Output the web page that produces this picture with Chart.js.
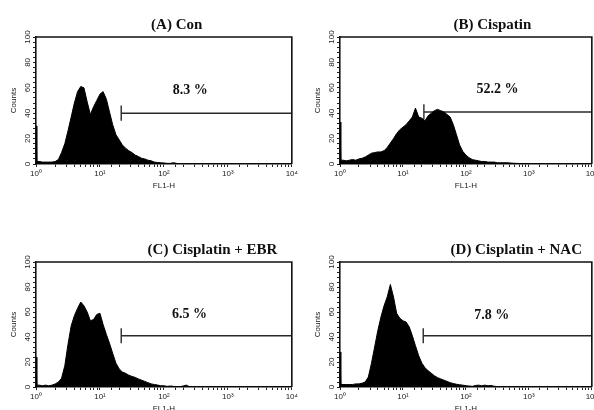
<!DOCTYPE html>
<html><head><meta charset="utf-8">
<script src="https://cdn.jsdelivr.net/npm/chart.js@4.4.1/dist/chart.umd.min.js"></script>
<style>
html,body{margin:0;padding:0;background:#fff;overflow:hidden;width:594px;height:410px;position:relative}
canvas{position:absolute}
</style></head><body>
<canvas id="cA" width="300" height="200" style="left:0;top:0"></canvas>
<canvas id="cB" width="300" height="200" style="left:300px;top:0"></canvas>
<canvas id="cC" width="300" height="218" style="left:0;top:205px"></canvas>
<canvas id="cD" width="300" height="218" style="left:300px;top:205px"></canvas>
<script>
// FL1-H channel positions (fluorescence intensity)
const channels = [1, 1.03, 1.12, 1.26, 1.41, 1.58, 1.78, 2.0, 2.24, 2.51,
  2.82, 3.16, 3.55, 3.98, 4.47, 5.01, 5.62, 6.31, 7.08, 7.94,
  8.91, 10, 11.2, 12.6, 14.1, 15.8, 17.8, 20.0, 22.4, 25.1,
  28.2, 31.6, 35.5, 39.8, 44.7, 50.1, 56.2, 63.1, 70.8, 79.4,
  89.1, 100, 112, 126, 141, 158, 178, 200, 224, 251,
  282, 316, 355, 398, 447, 501, 562, 631, 708, 794,
  891, 1000, 2000, 5000, 10000];

const countsCon = [30, 2, 2, 1.5, 1.5, 1.5, 1.5, 2, 3.5, 9,
  16, 26, 37, 48, 57, 61, 60, 49, 39, 45,
  50, 55, 57, 51, 41, 31, 23, 19, 15, 12.5,
  10.5, 9, 7, 6, 4.5, 4, 3, 2.5, 1.5, 1.2,
  1, 0.8, 0.5, 0.5, 1, 0.5, 0, 0, 0, 0,
  0, 0, 0, 0, 0, 0, 0, 0, 0, 0,
  0, 0, 0, 0, 0];

const countsCis = [33, 3, 3, 2.5, 3, 3.5, 3, 4, 4.5, 5.5,
  7, 8.5, 9, 9.5, 9.5, 10.5, 13, 16.5, 20, 24,
  27, 29, 31, 34, 37, 44, 37, 36, 34, 38,
  40, 42, 43, 42, 41, 39, 37, 31, 23, 15,
  10, 7, 5, 3.5, 3, 2.5, 2, 2, 1.5, 1.5,
  1.5, 1, 1, 1, 1, 0.8, 0.6, 0.5, 0.4, 0.3,
  0.2, 0.2, 0, 0, 0];

const countsEBR = [24, 1.5, 1.5, 1, 1.5, 1, 1.5, 2.5, 4, 7,
  17, 34, 49, 57, 63, 68, 65, 60, 53, 54,
  58, 59, 50, 42, 35, 27, 19, 14.5, 12, 11,
  9.5, 8.5, 7.7, 6.5, 5.5, 4.5, 3.5, 2.5, 2, 1.6,
  1, 1, 0.5, 0.8, 0.5, 0.3, 0.3, 0.8, 1.5, 0.3,
  0, 0, 0, 0, 0, 0, 0, 0, 0, 0,
  0, 0, 0, 0, 0];

const countsNAC = [28, 2, 2, 2, 2, 2, 2.5, 2.5, 3, 4,
  8, 19, 32, 45, 56, 65, 72, 82, 72, 59,
  55, 53, 52, 48, 41, 33, 25, 19, 15.5, 13,
  11, 9, 7.5, 6.5, 5.5, 4.5, 3.5, 2.8, 2.2, 1.8,
  1.5, 1, 0.8, 0.5, 1.2, 1.5, 1, 1.5, 1, 1.2,
  0.6, 0.3, 0, 0, 0, 0, 0, 0, 0, 0,
  0, 0, 0, 0, 0];

const panelTitles = ['(A) Con', '(B) Cispatin', '(C) Cisplatin + EBR', '(D) Cisplatin + NAC'];
const gatePercents = ['8.3 %', '52.2 %', '6.5 %', '7.8 %'];
const gateStart = [21.5, 21.5, 21.5, 21];
const gateEnd = [10000, 10000, 10000, 10000];
const gateLevel = [40, 41, 41, 41];
const xTickValues = [1, 10, 100, 1000, 10000];
const xTickLabels = ['10\u2070', '10\u00B9', '10\u00B2', '10\u00B3', '10\u2074'];
const yTickValues = [0, 20, 40, 60, 80, 100];
const yTickLabels = ['0', '20', '40', '60', '80', '100'];

const allCounts = [countsCon, countsCis, countsEBR, countsNAC];

// layout (not data)
const layouts = [
  {id: 'cA', padTop: 37, padRight: 7, yW: 36, xH: 36, titleFrac: 0.55, pctX: 257, pctY: 58},
  {id: 'cB', padTop: 37, padRight: 7, yW: 40, xH: 36, titleFrac: 0.605, pctX: 316, pctY: 59},
  {id: 'cC', padTop: 57, padRight: 7, yW: 36, xH: 36, titleFrac: 0.69, pctX: 251, pctY: 58},
  {id: 'cD', padTop: 57, padRight: 7, yW: 40, xH: 36, titleFrac: 0.70, pctX: 257, pctY: 57}
];

const SANS = '"Liberation Sans", Arial, sans-serif';
const SERIF = '"Liberation Serif", "Times New Roman", serif';

const decor = {
  id: 'decor',
  afterDraw(chart, args, o) {
    const {ctx, chartArea: a, scales} = chart;
    const x = scales.x, y = scales.y;
    ctx.save();
    ctx.strokeStyle = '#111';
    ctx.lineWidth = 1.6;
    ctx.beginPath();
    ctx.moveTo(a.left, a.top);
    ctx.lineTo(a.right, a.top);
    ctx.lineTo(a.right, a.bottom);
    ctx.stroke();
    ctx.fillStyle = '#222';
    ctx.font = '8px ' + SANS;
    ctx.textAlign = 'center';
    ctx.textBaseline = 'middle';
    yTickValues.forEach((v, i) => {
      ctx.save();
      ctx.translate(a.left - 8, y.getPixelForValue(v));
      ctx.rotate(-Math.PI / 2);
      ctx.fillText(yTickLabels[i], 0, 0);
      ctx.restore();
    });
    ctx.save();
    ctx.translate(a.left - 22, (a.top + a.bottom) / 2);
    ctx.rotate(-Math.PI / 2);
    ctx.fillText('Counts', 0, 0);
    ctx.restore();
    ctx.fillStyle = '#111';
    ctx.font = 'bold 14px ' + SERIF;
    ctx.fillText(o.pct, x.getPixelForValue(o.pctX), y.getPixelForValue(o.pctY));
    ctx.font = 'bold 15px ' + SERIF;
    ctx.fillText(o.title, a.left + o.titleFrac * (a.right - a.left), a.top - 12);
    ctx.restore();
  }
};

layouts.forEach((L, p) => {
  const counts = allCounts[p];
  const hist = channels.map((c, i) => ({x: c, y: counts[i]}));
  const gs = gateStart[p], ge = gateEnd[p], gl = gateLevel[p];
  const lineDs = (pts) => ({data: pts, borderColor: '#2a2a2a', borderWidth: 1.4, pointRadius: 0, fill: false, tension: 0});
  new Chart(document.getElementById(L.id), {
    type: 'line',
    data: {
      datasets: [
        {data: hist, borderColor: '#000', backgroundColor: '#000', borderWidth: 1, pointRadius: 0, fill: 'origin', tension: 0},
        lineDs([{x: gs, y: gl}, {x: ge, y: gl}]),
        lineDs([{x: gs, y: gl - 6}, {x: gs, y: gl + 6}]),
        lineDs([{x: ge, y: gl - 6}, {x: ge, y: gl + 6}])
      ]
    },
    options: {
      responsive: false,
      animation: false,
      events: [],
      layout: {padding: {top: L.padTop, right: L.padRight, left: 0, bottom: 0}},
      plugins: {
        legend: {display: false},
        tooltip: {enabled: false},
        decor: {title: panelTitles[p], pct: gatePercents[p], titleFrac: L.titleFrac, pctX: L.pctX, pctY: L.pctY}
      },
      scales: {
        x: {
          type: 'logarithmic', min: 1, max: 10000,
          afterFit: (s) => { s.height = L.xH; },
          grid: {drawOnChartArea: false, drawTicks: true, tickLength: 3, color: '#222', lineWidth: 1},
          border: {display: true, color: '#111', width: 1.6},
          ticks: {
            autoSkip: false, maxRotation: 0, minRotation: 0, padding: 2,
            color: '#222', font: {family: SANS, size: 8},
            callback: (v) => { const k = xTickValues.indexOf(v); return k >= 0 ? xTickLabels[k] : ''; }
          },
          title: {display: true, text: 'FL1-H', color: '#222', font: {family: SANS, size: 8}, padding: {top: 0, bottom: 9}}
        },
        y: {
          type: 'linear', min: 0, max: 100,
          afterFit: (s) => { s.width = L.yW; },
          grid: {drawOnChartArea: false, drawTicks: true, tickLength: 3, color: '#222', lineWidth: 1},
          border: {display: true, color: '#111', width: 1.6},
          ticks: {display: false, stepSize: 4}
        }
      }
    },
    plugins: [decor]
  });
});
</script>
</body></html>
